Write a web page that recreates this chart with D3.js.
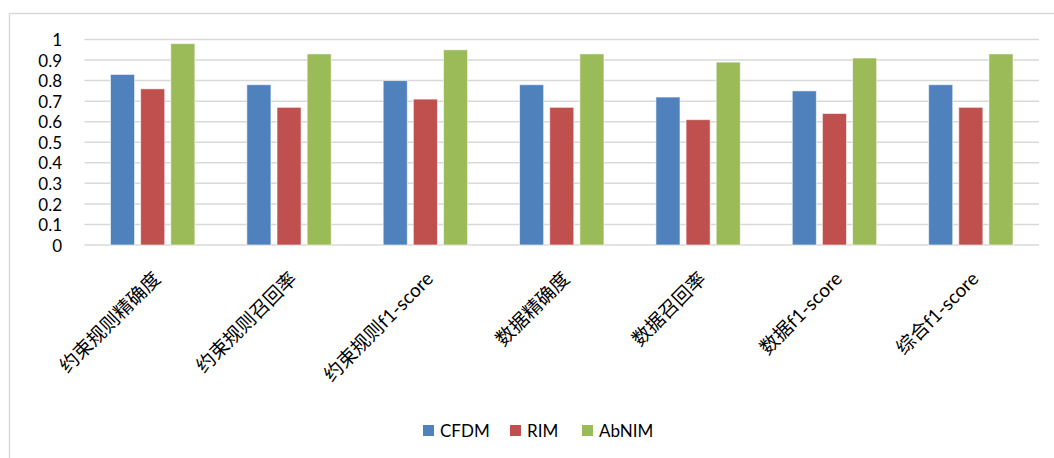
<!DOCTYPE html>
<html>
<head>
<meta charset="utf-8">
<script src="https://cdn.jsdelivr.net/npm/d3@7"></script>
<style>
  html, body { margin: 0; padding: 0; background: #fff; }
  svg { display: block; }
</style>
</head>
<body>
<svg id="chart" width="1054" height="458"></svg>
<script>
// Evaluation metrics per model
const categories = ["约束规则精确度", "约束规则召回率", "约束规则f1-score", "数据精确度", "数据召回率", "数据f1-score", "综合f1-score"];
const seriesNames = ["CFDM", "RIM", "AbNIM"];
const cfdm  = [0.83, 0.78, 0.80, 0.78, 0.72, 0.75, 0.78];
const rim   = [0.76, 0.67, 0.71, 0.67, 0.61, 0.64, 0.67];
const abnim = [0.98, 0.93, 0.95, 0.93, 0.89, 0.91, 0.93];
const yTicks = [0, 0.1, 0.2, 0.3, 0.4, 0.5, 0.6, 0.7, 0.8, 0.9, 1];
const colors = ["#4F81BD", "#C0504D", "#9BBB59"];

const seriesValues = [cfdm, rim, abnim];
const rows = categories.map((c, i) => ({
  cat: c,
  vals: seriesNames.map((s, k) => ({ key: s, value: seriesValues[k][i] }))
}));

const svg = d3.select("#chart");
const latin = "Lato, 'Open Sans', sans-serif";
const mixed = "Lato, 'Noto Sans CJK SC', sans-serif";

// Chart frame (top and left edges)
svg.append("path")
  .attr("d", "M9.5,458 V13.5 H1054")
  .attr("fill", "none")
  .attr("stroke", "#d9d9d9")
  .attr("stroke-width", 1.5);

const plot = { left: 84.5, right: 1039, top: 39.5, bottom: 245 };

const x = d3.scaleBand().domain(categories).range([plot.left, plot.right]);
const y = d3.scaleLinear().domain([0, 1]).range([plot.bottom, plot.top]);
const groupHalf = 42.2;
const xs = d3.scaleBand().domain(seriesNames)
  .range([x.bandwidth() / 2 - groupHalf, x.bandwidth() / 2 + groupHalf])
  .paddingInner(0.2).paddingOuter(0);

// Gridlines
svg.append("g")
  .selectAll("line")
  .data(yTicks)
  .join("line")
  .attr("x1", plot.left).attr("x2", plot.right)
  .attr("y1", d => y(d)).attr("y2", d => y(d))
  .attr("stroke", "#d9d9d9")
  .attr("stroke-width", 1.5);

// Y axis labels
const yAxis = d3.axisLeft(y).tickValues(yTicks).tickFormat(d3.format("~g")).tickSize(0).tickPadding(0);
const yg = svg.append("g").attr("transform", `translate(62,0)`).call(yAxis);
yg.select(".domain").remove();
yg.selectAll("text")
  .attr("font-family", latin)
  .attr("font-size", 17)
  .attr("fill", "#000")
  .attr("dy", "0.36em");

// Bars
svg.append("g")
  .selectAll("g")
  .data(rows)
  .join("g")
  .attr("transform", d => `translate(${x(d.cat)},0)`)
  .selectAll("rect")
  .data(d => d.vals)
  .join("rect")
  .attr("x", d => xs(d.key))
  .attr("width", xs.bandwidth())
  .attr("y", d => y(d.value))
  .attr("height", d => y(0) - y(d.value))
  .attr("fill", (d, i) => colors[i])
  .attr("stroke", "#ffffff")
  .attr("stroke-opacity", 0.6)
  .attr("stroke-width", 1);

// Category labels, rotated
const xg = svg.append("g");
xg.selectAll("text")
  .data(categories)
  .join("text")
  .attr("transform", d => `translate(${x(d) + x.bandwidth() / 2 + 9},${plot.bottom + 35}) rotate(-45)`)
  .attr("text-anchor", "end")
  .attr("font-family", mixed)
  .attr("font-size", 19)
  .attr("fill", "#000")
  .text(d => d);

// Legend
const legendItems = [
  { name: "CFDM", x: 423 },
  { name: "RIM", x: 510 },
  { name: "AbNIM", x: 582 }
];
const lg = svg.append("g");
legendItems.forEach((it, i) => {
  lg.append("rect")
    .attr("x", it.x).attr("y", 425)
    .attr("width", 11).attr("height", 11)
    .attr("fill", colors[i]);
  lg.append("text")
    .attr("x", it.x + 17).attr("y", 436.5)
    .attr("font-family", latin)
    .attr("font-size", 17)
    .attr("fill", "#000")
    .text(it.name);
});
</script>
</body>
</html>
